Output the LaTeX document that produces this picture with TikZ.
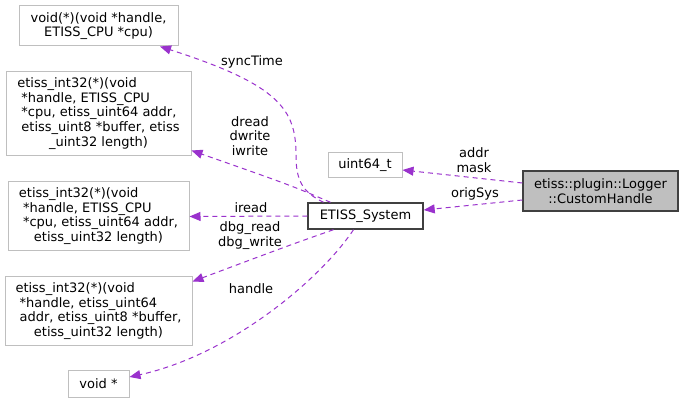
\documentclass[tikz,border=0pt]{standalone}
\usepackage{fontspec}
\setmainfont{DejaVu Sans}
\usetikzlibrary{arrows.meta,calc}
\definecolor{edgecol}{HTML}{9A32CD}
\definecolor{boxgray}{HTML}{BFBFBF}
\definecolor{darkborder}{HTML}{404040}
\begin{document}
\begin{tikzpicture}[x=1pt,y=-1pt,
  every node/.style={font=\fontsize{13}{14.8}\selectfont, inner sep=0pt, text=black},
  lbox/.style={draw=boxgray, line width=1pt, fill=white, rectangle},
  dbox/.style={draw=darkborder, line width=1.4pt, rectangle},
  edge/.style={draw=edgecol, line width=1pt, dash pattern=on 5pt off 4pt, -{Triangle[length=11pt,width=9pt]}},
  lbl/.style={align=center}]
\useasboundingbox (0,0) rectangle (683,403);
\fill[white] (0,0) rectangle (683,403);

% nodes
\node[lbox, minimum width=159pt, minimum height=40pt, align=center] (b1) at (98.5,26)
  {void(*)(void *handle,\\ETISS\_CPU *cpu)};
\node[lbox, minimum width=185pt, minimum height=84pt] (b2) at (98.5,114)
  {\begin{tabular}{@{}l@{}}etiss\_int32(*)(void\\\ *handle, ETISS\_CPU\\\ *cpu, etiss\_uint64 addr,\\\ etiss\_uint8 *buffer, etiss\\\multicolumn{1}{@{}c@{}}{\_uint32 length)}\end{tabular}};
\node[lbox, minimum width=181pt, minimum height=69pt] (b3) at (98.5,216.5)
  {\begin{tabular}{@{}l@{}}etiss\_int32(*)(void\\\ *handle, ETISS\_CPU\\\ *cpu, etiss\_uint64 addr,\\\multicolumn{1}{@{}c@{}}{etiss\_uint32 length)}\end{tabular}};
\node[lbox, minimum width=187pt, minimum height=69pt] (b4) at (98.5,311.5)
  {\begin{tabular}{@{}l@{}}etiss\_int32(*)(void\\\ *handle, etiss\_uint64\\\ addr, etiss\_uint8 *buffer,\\\multicolumn{1}{@{}c@{}}{etiss\_uint32 length)}\end{tabular}};
\node[lbox, minimum width=61pt, minimum height=26pt] (b5) at (98.5,384) {void *};
\node[lbox, minimum width=74pt, minimum height=25pt] (b6) at (365,165.5) {uint64\_t};
\node[dbox, fill=white, minimum width=115pt, minimum height=26pt] (sys) at (365.5,216) {ETISS\_System};
\node[dbox, fill=boxgray, minimum width=155pt, minimum height=40pt, align=center] (ch) at (600.5,191)
  {etiss::plugin::Logger\\::CustomHandle};

% edges
\draw[edge] ($(sys.north)+(-42,0)$) .. controls (302,192) and (296,180) .. (296,155)
  .. controls (296,110) and (280,85) .. ($(b1.south)+(61.5,0)$);
\draw[edge] ($(sys.north)+(-35,0)$) .. controls (290,185) .. ($(b2.south east)+(0,-6)$);
\draw[edge] (sys.west) -- (b3.east);
\draw[edge] ($(sys.south)+(-32,0)$) .. controls (290,245) .. ($(b4.north east)+(0,5)$);
\draw[edge] ($(sys.south)+(-12,0)$) .. controls (320,280) and (230,355) .. ($(b5.east)+(0,-7)$);
\draw[edge] ($(ch.west)+(0,-8)$) -- ($(b6.east)+(0,4.5)$);
\draw[edge] ($(ch.west)+(0,9)$) -- ($(sys.east)+(0,-6)$);

% labels
\node[lbl] (l1) at (252,62) {syncTime};
\node[lbl] (l2) at (250,136) {dread\\dwrite\\iwrite};
\node[lbl] (l3) at (251,208) {iread};
\node[lbl] (l4) at (250,235.5) {dbg\_read\\dbg\_write};
\node[lbl] (l5) at (251,289) {handle};
\node[lbl] (l6) at (474,160) {addr\\mask};
\node[lbl] (l7) at (475,194) {origSys};
\end{tikzpicture}
\end{document}
